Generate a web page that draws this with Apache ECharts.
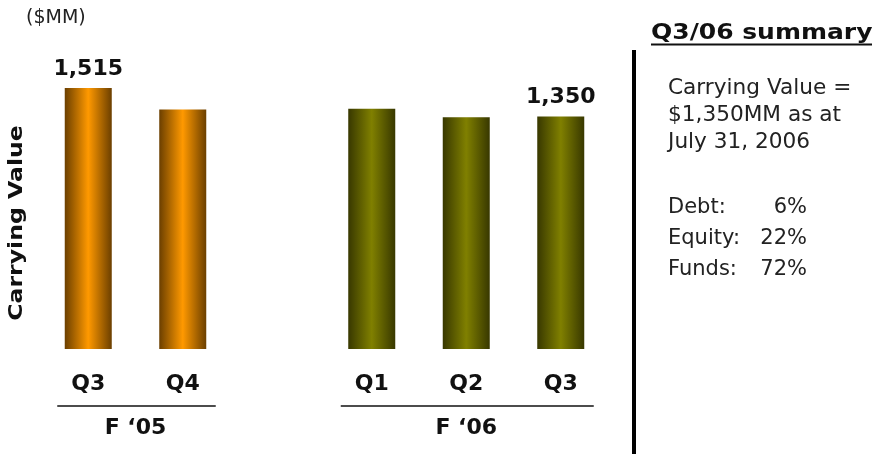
<!DOCTYPE html>
<html>
<head>
<meta charset="utf-8">
<script src="https://cdn.jsdelivr.net/npm/echarts@6/dist/echarts.min.js"></script>
<style>
  html, body { margin: 0; padding: 0; background: #ffffff; }
  #chart { width: 875px; height: 454px; }
</style>
</head>
<body>
<div id="chart"></div>
<script>
// Quarter slots; the empty slot separates the two fiscal years
const quarters = ['Q3', 'Q4', '', 'Q1', 'Q2', 'Q3'];
const fiscalYears = ['F \u201805', 'F \u201806'];
const yearOfQuarter = [0, 0, null, 1, 1, 1];
const carryingValue = [1515, 1390, null, 1395, 1345, 1350];
const labelledPoints = [0, 5];

const summaryTitle = 'Q3/06 summary';
const summaryLines = ['Carrying Value =', '$1,350MM as at', 'July 31, 2006'];
const mixNames = ['Debt:', 'Equity:', 'Funds:'];
const mixShares = [6, 22, 72];

const FONT = '"DejaVu Sans", Verdana, sans-serif';

function cylinder(edge, mid) {
  return new echarts.graphic.LinearGradient(0, 0, 1, 0, [
    { offset: 0, color: edge },
    { offset: 0.5, color: mid },
    { offset: 1, color: edge }
  ]);
}
const yearFill = [cylinder('#6b3f00', '#ff9900'), cylinder('#383800', '#808000')];

const barData = carryingValue.map((v, i) => ({
  value: v == null ? '-' : v,
  itemStyle: { color: yearOfQuarter[i] == null ? 'transparent' : yearFill[yearOfQuarter[i]] },
  label: { show: labelledPoints.includes(i) }
}));

const chart = echarts.init(document.getElementById('chart'), null, { renderer: 'canvas' });

chart.setOption({
  animation: false,
  backgroundColor: '#ffffff',
  grid: { left: 41, width: 567, top: 88, bottom: 105 },
  xAxis: {
    type: 'category',
    data: quarters,
    axisLine: { show: false },
    axisTick: { show: false },
    axisLabel: {
      interval: 0,
      margin: 24,
      color: '#111111',
      fontFamily: FONT,
      fontWeight: 'bold',
      fontSize: 22
    }
  },
  yAxis: {
    type: 'value',
    min: 0,
    max: 1515,
    show: false,
    splitLine: { show: false }
  },
  series: [{
    type: 'bar',
    barWidth: 47,
    data: barData,
    label: {
      position: 'top',
      distance: 8,
      color: '#111111',
      fontFamily: FONT,
      fontWeight: 'bold',
      fontSize: 22,
      formatter: p => Number(p.value).toLocaleString('en-US')
    }
  }]
});

// Fiscal-year brackets under the quarter labels, placed from the axis scale
const graphics = [];
fiscalYears.forEach((name, y) => {
  const idx = yearOfQuarter.map((g, i) => g === y ? i : -1).filter(i => i >= 0);
  const x0 = chart.convertToPixel({ xAxisIndex: 0 }, idx[0]);
  const x1 = chart.convertToPixel({ xAxisIndex: 0 }, idx[idx.length - 1]);
  graphics.push({
    type: 'line',
    shape: { x1: x0 - 31, y1: 406, x2: x1 + 33, y2: 406 },
    style: { stroke: '#111111', lineWidth: 1.5 }
  });
  graphics.push({
    type: 'text',
    x: (x0 + x1) / 2,
    y: 428,
    style: {
      text: name,
      fill: '#111111',
      font: 'bold 22px ' + FONT,
      textAlign: 'center',
      textVerticalAlign: 'middle'
    }
  });
});

// Unit caption and vertical axis title
graphics.push({
  type: 'text', x: 26, y: 18,
  style: { text: '($MM)', fill: '#222222', font: '19px ' + FONT, textAlign: 'left', textVerticalAlign: 'middle' }
});
graphics.push({
  type: 'text', x: 17, y: 223, rotation: Math.PI / 2, scaleX: 1.18,
  style: { text: 'Carrying Value', fill: '#111111', font: 'bold 20px ' + FONT, textAlign: 'center', textVerticalAlign: 'middle' }
});

// Summary panel
graphics.push({
  type: 'rect', shape: { x: 632, y: 50, width: 4, height: 404 }, style: { fill: '#000000' }
});
graphics.push({
  type: 'text', x: 651, y: 34, scaleX: 1.19,
  style: { text: summaryTitle, fill: '#111111', font: 'bold 21px ' + FONT, textAlign: 'left', textVerticalAlign: 'middle' }
});
graphics.push({
  type: 'rect', shape: { x: 651, y: 43.5, width: 221, height: 2 }, style: { fill: '#111111' }
});
summaryLines.forEach((t, i) => {
  graphics.push({
    type: 'text', x: 668, y: 89 + i * 27, scaleX: 1.03,
    style: { text: t, fill: '#222222', font: '21px ' + FONT, textAlign: 'left', textVerticalAlign: 'middle' }
  });
});
mixNames.forEach((t, i) => {
  const y = 208 + i * 31;
  graphics.push({
    type: 'text', x: 668, y: y,
    style: { text: t, fill: '#222222', font: '21px ' + FONT, textAlign: 'left', textVerticalAlign: 'middle' }
  });
  graphics.push({
    type: 'text', x: 807, y: y,
    style: { text: mixShares[i] + '%', fill: '#222222', font: '21px ' + FONT, textAlign: 'right', textVerticalAlign: 'middle' }
  });
});

chart.setOption({ graphic: graphics });
</script>
</body>
</html>
